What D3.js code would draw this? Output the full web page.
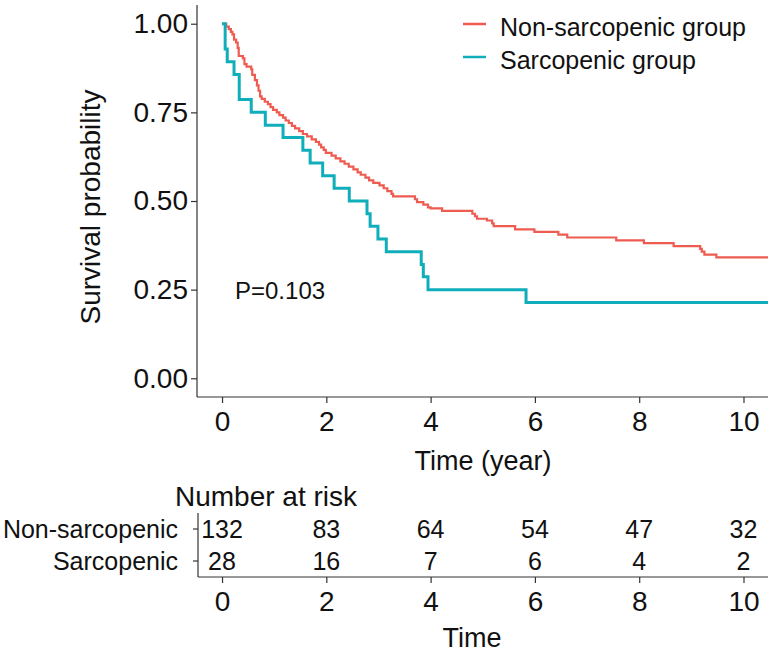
<!DOCTYPE html>
<html>
<head>
<meta charset="utf-8">
<script src="https://cdn.jsdelivr.net/npm/d3@7"></script>
<style>
  html, body { margin: 0; padding: 0; background: #fff; }
  svg text { font-family: "Liberation Sans", Arial, Helvetica, sans-serif; fill: #111; }
</style>
</head>
<body>
<svg id="chart" width="782" height="661"></svg>
<script>
// ---------------- data ----------------
const groupNames = ["Non-sarcopenic group", "Sarcopenic group"];
const riskRowLabels = ["Non-sarcopenic", "Sarcopenic"];
const timeTicks = [0, 2, 4, 6, 8, 10];
const survTicks = [0, 0.25, 0.5, 0.75, 1];
const survTickLabels = ["0.00", "0.25", "0.50", "0.75", "1.00"];
const pValueLabel = "P=0.103";
const followUpEnd = 10.47;

// Non-sarcopenic KM steps (time in years, survival after the step)
const nonSarcTime = [0.00, 0.08, 0.13, 0.17, 0.20, 0.23, 0.27, 0.30, 0.32, 0.40, 0.43, 0.47, 0.56, 0.58,
  0.63, 0.67, 0.70, 0.73, 0.76, 0.82, 0.88, 0.93, 0.98, 1.05, 1.10, 1.17, 1.22, 1.28, 1.34, 1.40,
  1.48, 1.55, 1.63, 1.72, 1.80, 1.86, 1.90, 1.95, 1.99, 2.10, 2.18, 2.27, 2.35, 2.43, 2.52, 2.60,
  2.66, 2.75, 2.82, 2.90, 3.02, 3.10, 3.17, 3.25, 3.28, 3.70, 3.74, 3.86, 3.95, 4.00, 4.22, 4.80,
  4.85, 4.89, 5.08, 5.18, 5.21, 5.62, 5.99, 6.45, 6.62, 7.56, 8.09, 8.66, 9.17, 9.20, 9.25, 9.48];
const nonSarcSurv = [1.000, 0.992, 0.985, 0.977, 0.970, 0.955, 0.947, 0.932, 0.909, 0.902, 0.886, 0.879, 0.871, 0.856,
  0.841, 0.826, 0.811, 0.795, 0.788, 0.780, 0.773, 0.765, 0.757, 0.750, 0.742, 0.735, 0.727, 0.720, 0.712, 0.705,
  0.697, 0.689, 0.682, 0.674, 0.667, 0.659, 0.651, 0.644, 0.636, 0.628, 0.620, 0.612, 0.605, 0.597, 0.589, 0.581,
  0.574, 0.566, 0.558, 0.551, 0.544, 0.536, 0.528, 0.520, 0.513, 0.505, 0.497, 0.490, 0.482, 0.479, 0.472, 0.464,
  0.457, 0.450, 0.445, 0.437, 0.429, 0.420, 0.413, 0.405, 0.397, 0.389, 0.381, 0.373, 0.365, 0.357, 0.349, 0.341];

// Sarcopenic KM steps
const sarcTime = [0.00, 0.06, 0.10, 0.23, 0.33, 0.56, 0.83, 1.17, 1.55, 1.69, 1.93, 2.15, 2.44, 2.78,
  2.84, 2.99, 3.15, 3.82, 3.86, 3.95, 5.83];
const sarcSurv = [1.000, 0.929, 0.893, 0.857, 0.786, 0.750, 0.714, 0.679, 0.643, 0.607, 0.571, 0.536, 0.500, 0.464,
  0.429, 0.393, 0.357, 0.321, 0.286, 0.250, 0.214];

const nonSarcRisk = [132, 83, 64, 54, 47, 32];
const sarcRisk = [28, 16, 7, 6, 4, 2];

const groupColors = ["#EE5B50", "#10AEBA"];
const groupWidths = [2.2, 3];

// ---------------- drawing ----------------
const svg = d3.select("#chart");
const axisColor = "#333";

const x = d3.scaleLinear().domain([-0.48, followUpEnd]).range([197, 768]);
const y = d3.scaleLinear().domain([-0.05, 1.05]).range([396, 6]);

const plot = svg.append("g");

// axes main
const yAxis = d3.axisLeft(y).tickValues(survTicks).tickFormat((d, i) => survTickLabels[i]).tickSize(6).tickPadding(3);
const gy = plot.append("g").attr("transform", "translate(197,0)").call(yAxis);
const xAxis = d3.axisBottom(x).tickValues(timeTicks).tickFormat(d3.format("d")).tickSize(6).tickPadding(8);
const gx = plot.append("g").attr("transform", "translate(0,397)").call(xAxis);
[gx, gy].forEach(g => {
  g.select(".domain").attr("stroke", axisColor).attr("stroke-width", 1.2);
  g.selectAll(".tick line").attr("stroke", axisColor).attr("stroke-width", 1.2);
  g.selectAll(".tick text").attr("font-size", 28).attr("fill", "#111")
    .style("font-family", "'Liberation Sans', Arial, sans-serif");
});
gy.select(".domain").attr("d", "M0,5V397");
gx.select(".domain").attr("d", "M197,0H768");
gx.selectAll(".tick text").attr("dy", "0.71em");

// curves
const series = [
  { t: nonSarcTime, s: nonSarcSurv },
  { t: sarcTime, s: sarcSurv }
];
const line = d3.line().x(d => x(d[0])).y(d => y(d[1])).curve(d3.curveStepAfter);
series.forEach((sr, i) => {
  const pts = sr.t.map((t, k) => [t, sr.s[k]]);
  pts.push([followUpEnd, sr.s[sr.s.length - 1]]);
  plot.append("path").datum(pts)
    .attr("d", line)
    .attr("fill", "none")
    .attr("stroke", groupColors[i])
    .attr("stroke-width", groupWidths[i])
    .attr("stroke-linejoin", "miter");
});

// axis titles
plot.append("text").attr("x", 483).attr("y", 470).attr("text-anchor", "middle")
  .attr("font-size", 27).text("Time (year)");
plot.append("text").attr("transform", "translate(100,207) rotate(-90)").attr("text-anchor", "middle")
  .attr("font-size", 28).text("Survival probability");

// p value
plot.append("text").attr("x", 235).attr("y", 299).attr("font-size", 24).text(pValueLabel);

// legend
groupNames.forEach((g, i) => {
  const ly = 24 + i * 33;
  plot.append("line").attr("x1", 463).attr("x2", 486).attr("y1", ly).attr("y2", ly)
    .attr("stroke", groupColors[i]).attr("stroke-width", 2.5);
  plot.append("text").attr("x", 500).attr("y", ly + 5).attr("dominant-baseline", "middle")
    .attr("font-size", 25).text(g);
});

// ---------------- risk table ----------------
const risk = svg.append("g");
risk.append("text").attr("x", 175).attr("y", 506).attr("font-size", 28).text("Number at risk");
const rowY = [529, 561];
const rt = risk.append("g");
// left axis
rt.append("line").attr("x1", 198).attr("x2", 198).attr("y1", 513).attr("y2", 577)
  .attr("stroke", axisColor).attr("stroke-width", 1.2);
rowY.forEach((ry, i) => {
  rt.append("line").attr("x1", 193).attr("x2", 198).attr("y1", ry).attr("y2", ry)
    .attr("stroke", axisColor).attr("stroke-width", 1.2);
  rt.append("text").attr("x", 178).attr("y", ry).attr("dy", "0.35em").attr("text-anchor", "end")
    .attr("font-size", 25).text(riskRowLabels[i]);
});
const riskData = [nonSarcRisk, sarcRisk];
riskData.forEach((arr, i) => {
  rt.selectAll(null).data(arr).enter().append("text")
    .attr("x", (d, k) => x(timeTicks[k]))
    .attr("y", rowY[i]).attr("dy", "0.35em").attr("text-anchor", "middle")
    .attr("font-size", 25).text(d => d);
});
const xAxis2 = d3.axisBottom(x).tickValues(timeTicks).tickFormat(d3.format("d")).tickSize(6).tickPadding(8);
const gx2 = risk.append("g").attr("transform", "translate(0,577)").call(xAxis2);
gx2.select(".domain").attr("stroke", axisColor).attr("stroke-width", 1.2).attr("d", "M198,0H768");
gx2.selectAll(".tick line").attr("stroke", axisColor).attr("stroke-width", 1.2);
gx2.selectAll(".tick text").attr("font-size", 28).attr("fill", "#111").attr("dy", "0.71em")
  .style("font-family", "'Liberation Sans', Arial, sans-serif");
risk.append("text").attr("x", 472).attr("y", 647).attr("text-anchor", "middle")
  .attr("font-size", 27).text("Time");
</script>
</body>
</html>
